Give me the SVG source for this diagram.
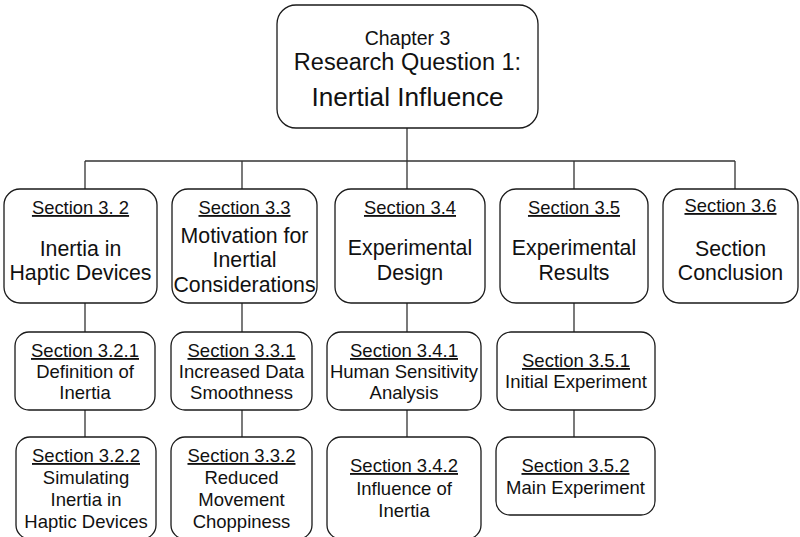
<svg xmlns="http://www.w3.org/2000/svg" width="800" height="537" viewBox="0 0 800 537">
<style>
.box{fill:#fff;stroke:#1a1a1a;stroke-width:1.3}
.con{stroke:#333;stroke-width:1.3;fill:none}
text{font-family:"Liberation Sans",Arial,sans-serif;fill:#111;text-anchor:middle}
.u{text-decoration:underline}
.l1s{font-size:18.4px}
.l1{font-size:21.3px}
.l2{font-size:18.5px}
</style>
<rect width="800" height="537" fill="#fff"/>
<g id="connectors">
<path class="con" d="M407 128V161M85 161H735M85 161V189M242 161V189M407 161V189M574 161V189M735 161V189"/>
<path class="con" d="M85 303V332M85 410V437M242 303V332M242 410V437M407 303V332M407 410V437M574 303V332M574 410V437"/>
</g>
<g id="ch3">
<rect class="box" x="277" y="5" width="261" height="123" rx="19"/>
<text x="407.5" y="45" style="font-size:19.5px">Chapter 3</text>
<text x="407.5" y="70" style="font-size:23.5px">Research Question 1:</text>
<text x="407.5" y="106" style="font-size:26.2px">Inertial Influence</text>
</g>
<g id="s32">
<rect class="box" x="4" y="189" width="153" height="114" rx="16"/>
<text class="l1s u" x="80.5" y="214">Section 3. 2</text>
<text class="l1" x="80.5" y="256">Inertia in</text>
<text class="l1" x="80.5" y="280">Haptic Devices</text>
</g>
<g id="s33">
<rect class="box" x="172" y="189" width="145" height="114" rx="16"/>
<text class="l1s u" x="244.5" y="214">Section 3.3</text>
<text class="l1" x="244.5" y="243">Motivation for</text>
<text class="l1" x="244.5" y="267">Inertial</text>
<text class="l1" x="244.5" y="292">Considerations</text>
</g>
<g id="s34">
<rect class="box" x="335" y="189" width="150" height="114" rx="16"/>
<text class="l1s u" x="410" y="214">Section 3.4</text>
<text class="l1" x="410" y="255">Experimental</text>
<text class="l1" x="410" y="280">Design</text>
</g>
<g id="s35">
<rect class="box" x="500" y="189" width="148" height="114" rx="16"/>
<text class="l1s u" x="574" y="214">Section 3.5</text>
<text class="l1" x="574" y="255">Experimental</text>
<text class="l1" x="574" y="280">Results</text>
</g>
<g id="s36">
<rect class="box" x="663" y="189" width="135" height="114" rx="16"/>
<text class="l1s u" x="730.5" y="212">Section 3.6</text>
<text class="l1" x="730.5" y="256">Section</text>
<text class="l1" x="730.5" y="280">Conclusion</text>
</g>
<g id="s321">
<rect class="box" x="15" y="332" width="140" height="78" rx="14"/>
<text class="l2 u" x="85" y="357">Section 3.2.1</text>
<text class="l2" x="85" y="378">Definition of</text>
<text class="l2" x="85" y="399">Inertia</text>
</g>
<g id="s331">
<rect class="box" x="171" y="332" width="141" height="78" rx="14"/>
<text class="l2 u" x="241.5" y="357">Section 3.3.1</text>
<text class="l2" x="241.5" y="378">Increased Data</text>
<text class="l2" x="241.5" y="399">Smoothness</text>
</g>
<g id="s341">
<rect class="box" x="327" y="332" width="154" height="78" rx="14"/>
<text class="l2 u" x="404" y="357">Section 3.4.1</text>
<text class="l2" x="404" y="378">Human Sensitivity</text>
<text class="l2" x="404" y="399">Analysis</text>
</g>
<g id="s351">
<rect class="box" x="497" y="332" width="158" height="78" rx="14"/>
<text class="l2 u" x="576" y="367">Section 3.5.1</text>
<text class="l2" x="576" y="388">Initial Experiment</text>
</g>
<g id="s322">
<rect class="box" x="16" y="437" width="140" height="102" rx="14"/>
<text class="l2 u" x="86" y="462">Section 3.2.2</text>
<text class="l2" x="86" y="484">Simulating</text>
<text class="l2" x="86" y="506">Inertia in</text>
<text class="l2" x="86" y="528">Haptic Devices</text>
</g>
<g id="s332">
<rect class="box" x="171" y="437" width="141" height="102" rx="14"/>
<text class="l2 u" x="241.5" y="462">Section 3.3.2</text>
<text class="l2" x="241.5" y="484">Reduced</text>
<text class="l2" x="241.5" y="506">Movement</text>
<text class="l2" x="241.5" y="528">Choppiness</text>
</g>
<g id="s342">
<rect class="box" x="327" y="437" width="154" height="102" rx="14"/>
<text class="l2 u" x="404" y="472">Section 3.4.2</text>
<text class="l2" x="404" y="495">Influence of</text>
<text class="l2" x="404" y="517">Inertia</text>
</g>
<g id="s352">
<rect class="box" x="496" y="437" width="159" height="78" rx="14"/>
<text class="l2 u" x="575.5" y="472">Section 3.5.2</text>
<text class="l2" x="575.5" y="494">Main Experiment</text>
</g>
</svg>
